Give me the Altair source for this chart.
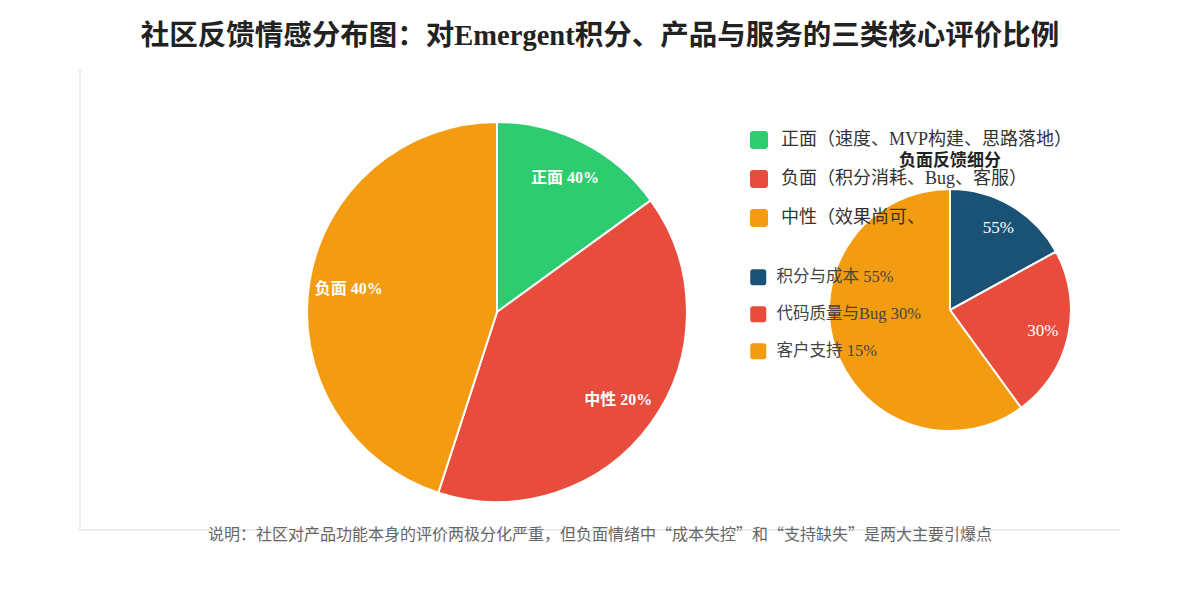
import altair as alt
import pandas as pd

# ---- data ----
main_categories = ["正面（速度、MVP构建、思路落地）", "负面（积分消耗、Bug、客服）", "中性（效果尚可、"]
main_values = [15, 40, 45]
main_labels = ["正面 40%", "中性 20%", "负面 40%"]
main_colors = ["#2ecc71", "#e74c3c", "#f39c12"]

sub_categories = ["积分与成本 55%", "代码质量与Bug 30%", "客户支持 15%"]
sub_values = [17, 23, 60]
sub_labels = ["55%", "30%", ""]
sub_colors = ["#1a5276", "#e74c3c", "#f39c12"]

title_text = "社区反馈情感分布图：对Emergent积分、产品与服务的三类核心评价比例"
sub_title_text = "负面反馈细分"
caption_text = "说明：社区对产品功能本身的评价两极分化严重，但负面情绪中“成本失控”和“支持缺失”是两大主要引爆点"

FONT = '"Liberation Serif", "Noto Sans CJK SC", serif'
CJK = '"Noto Sans CJK SC", sans-serif'
W, H = 1040, 460
ROUNDED = "M-1,-0.65 Q-1,-1 -0.65,-1 L0.65,-1 Q1,-1 1,-0.65 L1,0.65 Q1,1 0.65,1 L-0.65,1 Q-1,1 -1,0.65 Z"

main_df = pd.DataFrame({"cat": main_categories, "value": main_values,
                        "label": main_labels, "idx": list(range(len(main_values)))})
sub_df = pd.DataFrame({"sub": sub_categories, "value": sub_values,
                       "label": sub_labels, "idx": list(range(len(sub_values)))})
one = pd.DataFrame({"t": [caption_text], "s": [sub_title_text]})

MX, MY, MR = 417, 242, 190
SX, SY, SR = 870, 240, 121

frame_left = alt.Chart(one).mark_rule(color="#ececec", strokeWidth=2).encode(
    x=alt.value(0), y=alt.value(0), y2=alt.value(H))
frame_bottom = alt.Chart(one).mark_rule(color="#ececec", strokeWidth=2).encode(
    x=alt.value(0), x2=alt.value(W), y=alt.value(H))

main_arc = alt.Chart(main_df).mark_arc(outerRadius=MR, stroke="white", strokeWidth=2).encode(
    theta=alt.Theta("value:Q", stack=True),
    order=alt.Order("idx:Q"),
    color=alt.Color("cat:N", sort=main_categories,
                    scale=alt.Scale(domain=main_categories, range=main_colors),
                    legend=alt.Legend(title=None, orient="none", legendX=670, legendY=61,
                                      symbolType=ROUNDED, symbolSize=324, symbolStrokeWidth=0,
                                      symbolOpacity=1, labelFont=FONT, labelFontSize=18,
                                      labelColor="#333", labelOffset=13, rowPadding=21,
                                      labelLimit=500, padding=0)),
    x=alt.value(MX), y=alt.value(MY))

main_text = alt.Chart(main_df).mark_text(radius=150, color="white", font=FONT,
                                         fontSize=16, fontWeight="bold").encode(
    theta=alt.Theta("value:Q", stack=True),
    order=alt.Order("idx:Q"),
    detail="cat:N",
    text="label:N",
    x=alt.value(MX), y=alt.value(MY))

sub_arc = alt.Chart(sub_df).mark_arc(outerRadius=SR, stroke="white", strokeWidth=2).encode(
    theta=alt.Theta("value:Q", stack=True),
    order=alt.Order("idx:Q"),
    color=alt.Color("sub:N", sort=sub_categories,
                    scale=alt.Scale(domain=sub_categories, range=sub_colors),
                    legend=alt.Legend(title=None, orient="none", legendX=670, legendY=199,
                                      symbolType=ROUNDED, symbolSize=256, symbolStrokeWidth=0,
                                      symbolOpacity=1, labelFont=FONT, labelFontSize=16.5,
                                      labelColor="#444", labelOffset=10, rowPadding=20,
                                      labelLimit=500, padding=0)),
    x=alt.value(SX), y=alt.value(SY))

sub_text = alt.Chart(sub_df).mark_text(radius=95, color="white", font=FONT, fontSize=17).encode(
    theta=alt.Theta("value:Q", stack=True),
    order=alt.Order("idx:Q"),
    detail="sub:N",
    text="label:N",
    x=alt.value(SX), y=alt.value(SY))

sub_title = alt.Chart(one).mark_text(font=FONT, fontSize=17, fontWeight="bold",
                                     color="#222").encode(
    text="s:N", x=alt.value(SX), y=alt.value(91))

caption = alt.Chart(one).mark_text(font=CJK, fontSize=16, color="#666").encode(
    text="t:N", x=alt.value(W / 2), y=alt.value(465))

chart = alt.layer(
    frame_left, frame_bottom, main_arc, main_text, sub_arc, sub_text, sub_title, caption
).resolve_scale(color="independent").properties(
    width=W, height=H,
    background="white",
    padding={"left": 80, "top": 70, "right": 80, "bottom": 70},
    autosize=alt.AutoSizeParams(type="none"),
    title=alt.TitleParams(title_text, font=FONT, fontSize=28.5, fontWeight="bold",
                          color="#222", anchor="middle", offset=19),
).configure_view(strokeWidth=0)

chart.save("out.html", embed_options={"renderer": "svg", "actions": False})
